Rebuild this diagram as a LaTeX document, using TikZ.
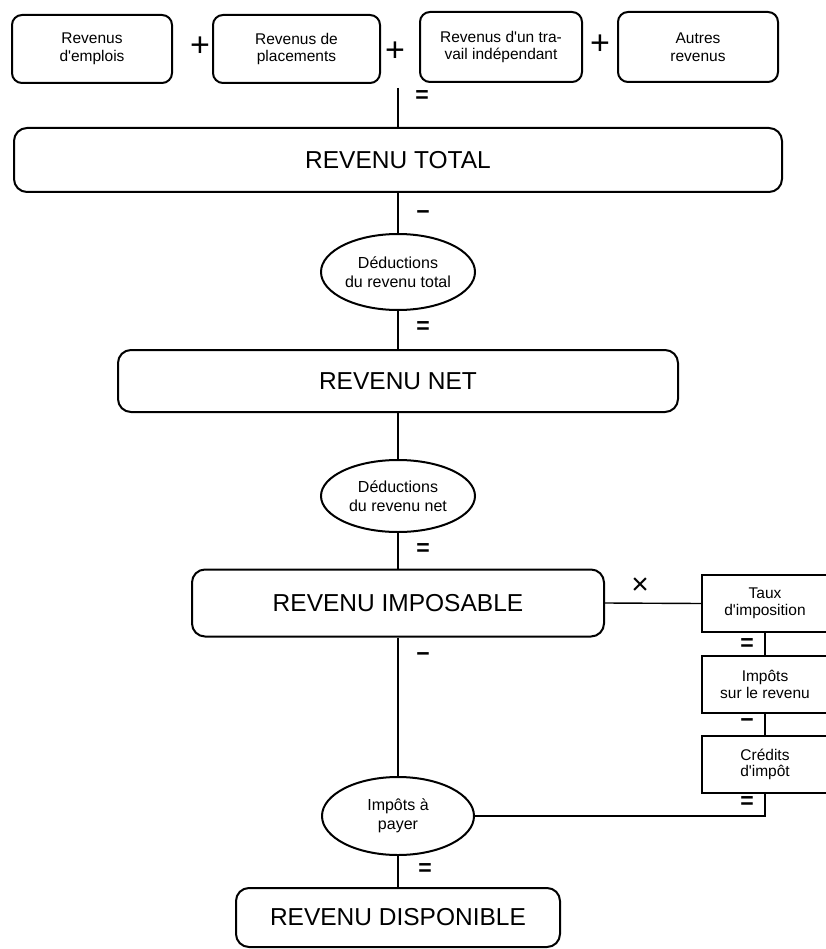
\documentclass[tikz,border=0pt]{standalone}
\usepackage{fontspec}
\setmainfont{Liberation Sans}
\usetikzlibrary{shapes.geometric}
\newcommand{\apos}{\textquotesingle}
\begin{document}
\begin{tikzpicture}[x=1pt,y=-1pt,
  every node/.style={inner sep=0pt, align=center},
  srcbox/.style={draw, rounded corners=10pt, line width=2pt, minimum width=160pt,
    minimum height=68pt, font=\fontsize{15.5}{17.5}\selectfont},
  bigbox/.style={draw, rounded corners=13pt, line width=2pt,
    font=\fontsize{24.5}{28}\selectfont},
  deduct/.style={draw, ellipse, line width=2pt, minimum width=154pt,
    font=\fontsize{16}{19.5}\selectfont},
  sidebox/.style={draw, line width=1.4pt, minimum width=126pt, minimum height=57pt,
    font=\fontsize{15.5}{16.5}\selectfont},
  link/.style={line width=2pt},
  sidelink/.style={line width=1.4pt},
  op/.style={font=\fontsize{23}{23}\bfseries\selectfont},
  times/.style={font=\fontsize{30}{30}\selectfont},
  plus/.style={font=\fontsize{34}{34}\selectfont}]

\useasboundingbox (0,0) rectangle (825,949);

% sources of income
\node[srcbox] (emp) at (92,49) {Revenus\\d\apos emplois};
\node[srcbox, minimum width=167pt] (plac) at (296.5,49) {Revenus de\\placements};
\node[srcbox, minimum width=162pt, minimum height=70pt] (indep) at (501,47) {Revenus d\apos un tra-\\vail indépendant};
\node[srcbox, minimum height=70pt] (autre) at (698,47) {Autres\\revenus};
\node[plus] (p1) at (200,47) {+};
\node[plus] (p2) at (395,52) {+};
\node[plus] (p3) at (600,45) {+};
\coordinate (sum) at (398,88);

% main column
\node[bigbox, minimum width=768pt, minimum height=64pt] (tot) at (398,160) {REVENU TOTAL};
\node[deduct, minimum height=76pt] (ded1) at (398,272) {Déductions\\du revenu total};
\node[bigbox, minimum width=560pt, minimum height=62pt] (net) at (398,381) {REVENU NET};
\node[deduct, minimum height=72pt] (ded2) at (398,496) {Déductions\\du revenu net};
\node[bigbox, minimum width=412pt, minimum height=67pt] (imp) at (398,603) {REVENU IMPOSABLE};
\node[deduct, minimum width=152pt, minimum height=78pt] (pay) at (398,816) {Impôts à\\payer};
\node[bigbox, minimum width=324pt, minimum height=59pt] (disp) at (398,917.5) {REVENU DISPONIBLE};

% tax computation column
\node[sidebox] (taux) at (765,603.5) {Taux\\d\apos imposition};
\node[sidebox] (ir) at (765,684.5) {Impôts\\sur le revenu};
\node[sidebox] (cred) at (765,764.5) {Crédits\\d\apos impôt};

% connectors
\draw[link] (sum) -- (tot.north);
\draw[link] (tot.south) -- (ded1.north);
\draw[link] (ded1.south) -- (net.north);
\draw[link] (net.south) -- (ded2.north);
\draw[link] (ded2.south) -- (imp.north);
\draw[link] (imp.south) -- (pay.north);
\draw[link] (pay.south) -- (disp.north);
\draw[sidelink] (imp.east) -- (taux.west);
\draw[sidelink] (taux.south) -- (ir.north);
\draw[sidelink] (ir.south) -- (cred.north);
\draw[sidelink] (cred.south) |- (pay.east);

% operators
\node[op] (o1) at (422,97) {=};
\node[op] (o2) at (423,215) {−};
\node[op] (o3) at (423,328) {=};
\node[op] (o4) at (423,550) {=};
\node[op] (o5) at (423,657) {−};
\node[op] (o6) at (425,870) {=};
\node[times] (o7) at (640,586) {×};
\node[op] (o8) at (747,645) {=};
\node[op] (o9) at (747,723) {−};
\node[op] (o10) at (747,803) {=};
\end{tikzpicture}
\end{document}
